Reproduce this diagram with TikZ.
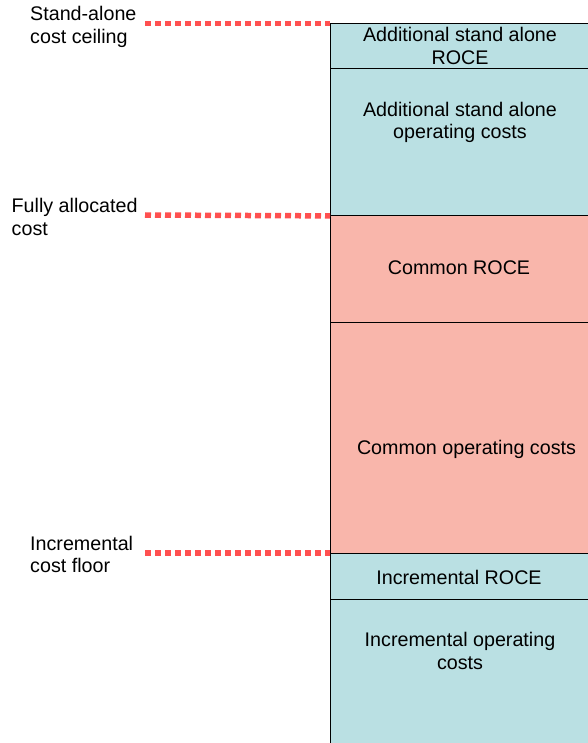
\documentclass[tikz,border=0pt]{standalone}
\usepackage{fontspec}
\setmainfont{Liberation Sans}
\definecolor{tealfill}{HTML}{BAE0E3}
\definecolor{salmonfill}{HTML}{F9B6AB}
\definecolor{dotred}{HTML}{FF5050}
\tikzset{
  costbox/.style={draw=black, line width=0.9pt, inner sep=0pt, minimum width=280pt},
  tealbox/.style={costbox, fill=tealfill},
  salmonbox/.style={costbox, fill=salmonfill},
  boxtext/.style={inner sep=0pt, anchor=base, align=center, font=\fontsize{19.7}{22.6}\selectfont},
  sidetext/.style={inner sep=0pt, anchor=base west, align=left, font=\fontsize{19.7}{22.6}\selectfont},
  dotline/.style={draw=dotred, line width=5.5pt, dash pattern=on 6pt off 4pt}
}
\begin{document}
\begin{tikzpicture}[x=1pt,y=1pt]
\useasboundingbox (0,0) rectangle (587,-743);
% boxes (left edge at 330, right edge beyond page)
\node[tealbox, minimum height=45pt, anchor=north west] (aroce) at (330,-23.3) {};
\node[tealbox, minimum height=146.7pt, anchor=north west] (aopex) at (330,-68.3) {};
\node[salmonbox, minimum height=107pt, anchor=north west] (croce) at (330,-215) {};
\node[salmonbox, minimum height=231pt, anchor=north west] (copex) at (330,-322) {};
\node[tealbox, minimum height=45.7pt, anchor=north west] (iroce) at (330,-553) {};
\node[tealbox, minimum height=160pt, anchor=north west] (iopex) at (330,-598.7) {};
% box texts (anchor = baseline of last line)
\node[boxtext] (t1) at (460,-64.3) {Additional stand alone\\ROCE};
\node[boxtext] (t2) at (460,-139) {Additional stand alone\\operating costs};
\node[boxtext] (t3) at (459,-274.3) {Common ROCE};
\node[boxtext] (t4) at (466.5,-454.3) {Common operating costs};
\node[boxtext] (t5) at (459,-584.3) {Incremental ROCE};
\node[boxtext] (t6) at (460,-669) {Incremental operating\\costs};
% side labels
\node[sidetext] (l1) at (30,-43.3) {Stand-alone\\cost ceiling};
\node[sidetext] (l2) at (11.5,-235) {Fully allocated\\cost};
\node[sidetext] (l3) at (30,-572.7) {Incremental\\cost floor};
% dotted leaders
\coordinate (d1) at (145,-23.3);
\coordinate (d2) at (145,-215);
\coordinate (d3) at (145,-553);
\draw[dotline] (d1) -- (aroce.north west);
\draw[dotline] (d2) -- (aopex.south west);
\draw[dotline] (d3) -- (iroce.north west);
\end{tikzpicture}
\end{document}
